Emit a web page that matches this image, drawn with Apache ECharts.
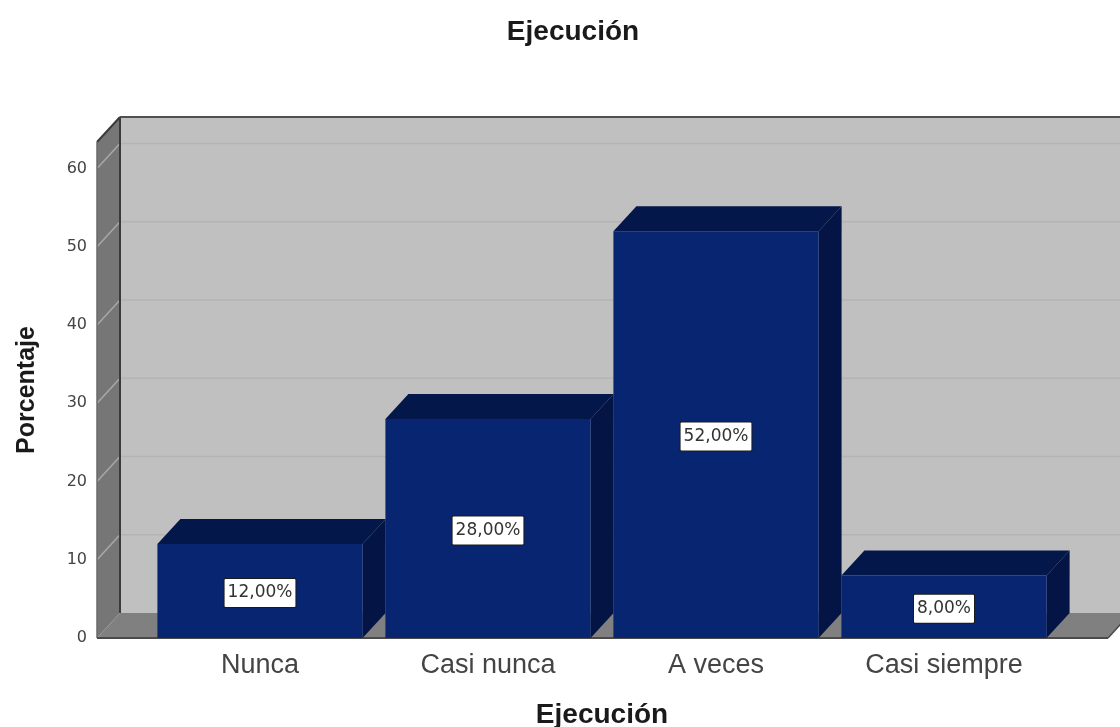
<!DOCTYPE html>
<html><head><meta charset="utf-8">
<style>html,body{margin:0;padding:0;background:#fff}#c{width:1120px;height:727px;filter:blur(0.5px)}</style>
<script src="https://cdn.jsdelivr.net/npm/echarts@6/dist/echarts.min.js"></script>
</head><body><div id="c"></div>
<script>
var categories = ['Nunca', 'Casi nunca', 'A veces', 'Casi siempre'];
var percentages = [12, 28, 52, 8];
var valueLabels = ['12,00%', '28,00%', '52,00%', '8,00%'];
var yTicks = [0, 10, 20, 30, 40, 50, 60];
var yMax = 63.4;
var depthX = 23, depthY = 25;
var padLeft = 49, padRight = 50;
var font = '"Liberation Sans", Arial, sans-serif';
var smallFont = '"DejaVu Sans", sans-serif';

var chart = echarts.init(document.getElementById('c'), null, {renderer: 'canvas'});

function poly(points, fill, stroke, w) {
  return {type: 'polygon', shape: {points: points},
    style: {fill: fill, stroke: stroke || null, lineWidth: w || 0}};
}
function line(x1, y1, x2, y2, color, w) {
  return {type: 'line', shape: {x1: x1, y1: y1, x2: x2, y2: y2},
    style: {stroke: color, lineWidth: w, fill: null}};
}
function renderWalls(params, api) {
  var cs = params.coordSys;
  var L = cs.x - padLeft, R = cs.x + cs.width + padRight;
  var T = cs.y, B = cs.y + cs.height;
  var kids = [
    poly([[L + depthX, T - depthY], [R + depthX, T - depthY], [R + depthX, B - depthY], [L + depthX, B - depthY]], '#c0c0c0'),
    poly([[L, T], [L + depthX, T - depthY], [L + depthX, B - depthY], [L, B]], '#767676'),
    poly([[L, B], [L + depthX, B - depthY], [R + depthX, B - depthY], [R, B]], '#808080')
  ];
  yTicks.forEach(function (t) {
    if (t === 0) return;
    var y = api.coord([0, t])[1];
    kids.push(line(L, y, L + depthX, y - depthY, '#a8a8a8', 1.5));
    kids.push(line(L + depthX, y - depthY, R + depthX, y - depthY, '#b4b4b4', 1.5));
  });
  kids.push(line(L + depthX, T - depthY, L + depthX, B - depthY, '#3a3a3a', 2));
  kids.push(line(L + depthX, T - depthY, R + depthX, T - depthY, '#505050', 2));
  kids.push(line(L, T, L + depthX, T - depthY, '#3a3a3a', 2));
  kids.push(line(L, T, L, B, '#6a6a6a', 1.5));
  kids.push(line(L, B, R, B, '#4a4a4a', 2));
  kids.push(line(R, B, R + depthX, B - depthY, '#4a4a4a', 1.5));
  return {type: 'group', children: kids};
}
function renderBar(params, api) {
  var i = api.value(0), v = api.value(1);
  var top = api.coord([i, v]), base = api.coord([i, 0]);
  var w = api.size([1, 0])[0] * 0.9;
  var l = top[0] - w / 2, r = top[0] + w / 2, t = top[1], b = base[1];
  return {type: 'group', children: [
    poly([[l, t], [l + depthX, t - depthY], [r + depthX, t - depthY], [r, t]], '#04174a'),
    poly([[r, t], [r + depthX, t - depthY], [r + depthX, b - depthY], [r, b]], '#041545'),
    poly([[l, t], [r, t], [r, b], [l, b]], '#072570'),
    {type: 'text', x: top[0], y: (t + b) / 2 + 2,
      style: {text: valueLabels[i], x: 0, y: 0, align: 'center', verticalAlign: 'middle',
        font: '17px ' + smallFont, fill: '#333',
        backgroundColor: '#fff', borderColor: '#1a1a1a', borderWidth: 1, borderRadius: 1,
        padding: [6, 3, 5, 3]}}
  ]};
}

chart.setOption({
  animation: false,
  backgroundColor: '#fff',
  title: {text: 'Ejecución', left: 568, top: 13, textAlign: 'center',
    textStyle: {fontFamily: font, fontWeight: 'bold', fontSize: 28, color: '#1a1a1a'}},
  grid: {left: 146, width: 912, top: 142, height: 496, outerBoundsMode: 'none'},
  xAxis: {type: 'category', data: categories, boundaryGap: true,
    axisLine: {show: false}, axisTick: {show: false},
    axisLabel: {fontFamily: font, fontSize: 27, color: '#444', margin: 14},
    name: 'Ejecución', nameLocation: 'middle', nameGap: 63,
    nameTextStyle: {fontFamily: font, fontWeight: 'bold', fontSize: 28, color: '#1a1a1a'}},
  yAxis: {type: 'value', min: 0, max: yMax, offset: 49,
    axisLine: {show: false}, axisTick: {show: false}, splitLine: {show: false},
    axisLabel: {fontFamily: smallFont, fontSize: 16, color: '#444', margin: 10,
      padding: [7, 0, 0, 0], customValues: yTicks},
    name: 'Porcentaje', nameLocation: 'middle', nameGap: 57, nameRotate: 90,
    nameTextStyle: {fontFamily: font, fontWeight: 'bold', fontSize: 25, color: '#1a1a1a'}},
  series: [
    {type: 'custom', silent: true, renderItem: renderWalls, data: [[0, 0]], clip: false, z: 1,
     encode: {x: 0, y: 1}},
    {type: 'custom', silent: true, renderItem: renderBar, clip: false, z: 2,
     data: percentages.map(function (v, i) { return [i, v]; }), encode: {x: 0, y: 1}}
  ]
});
</script></body></html>
